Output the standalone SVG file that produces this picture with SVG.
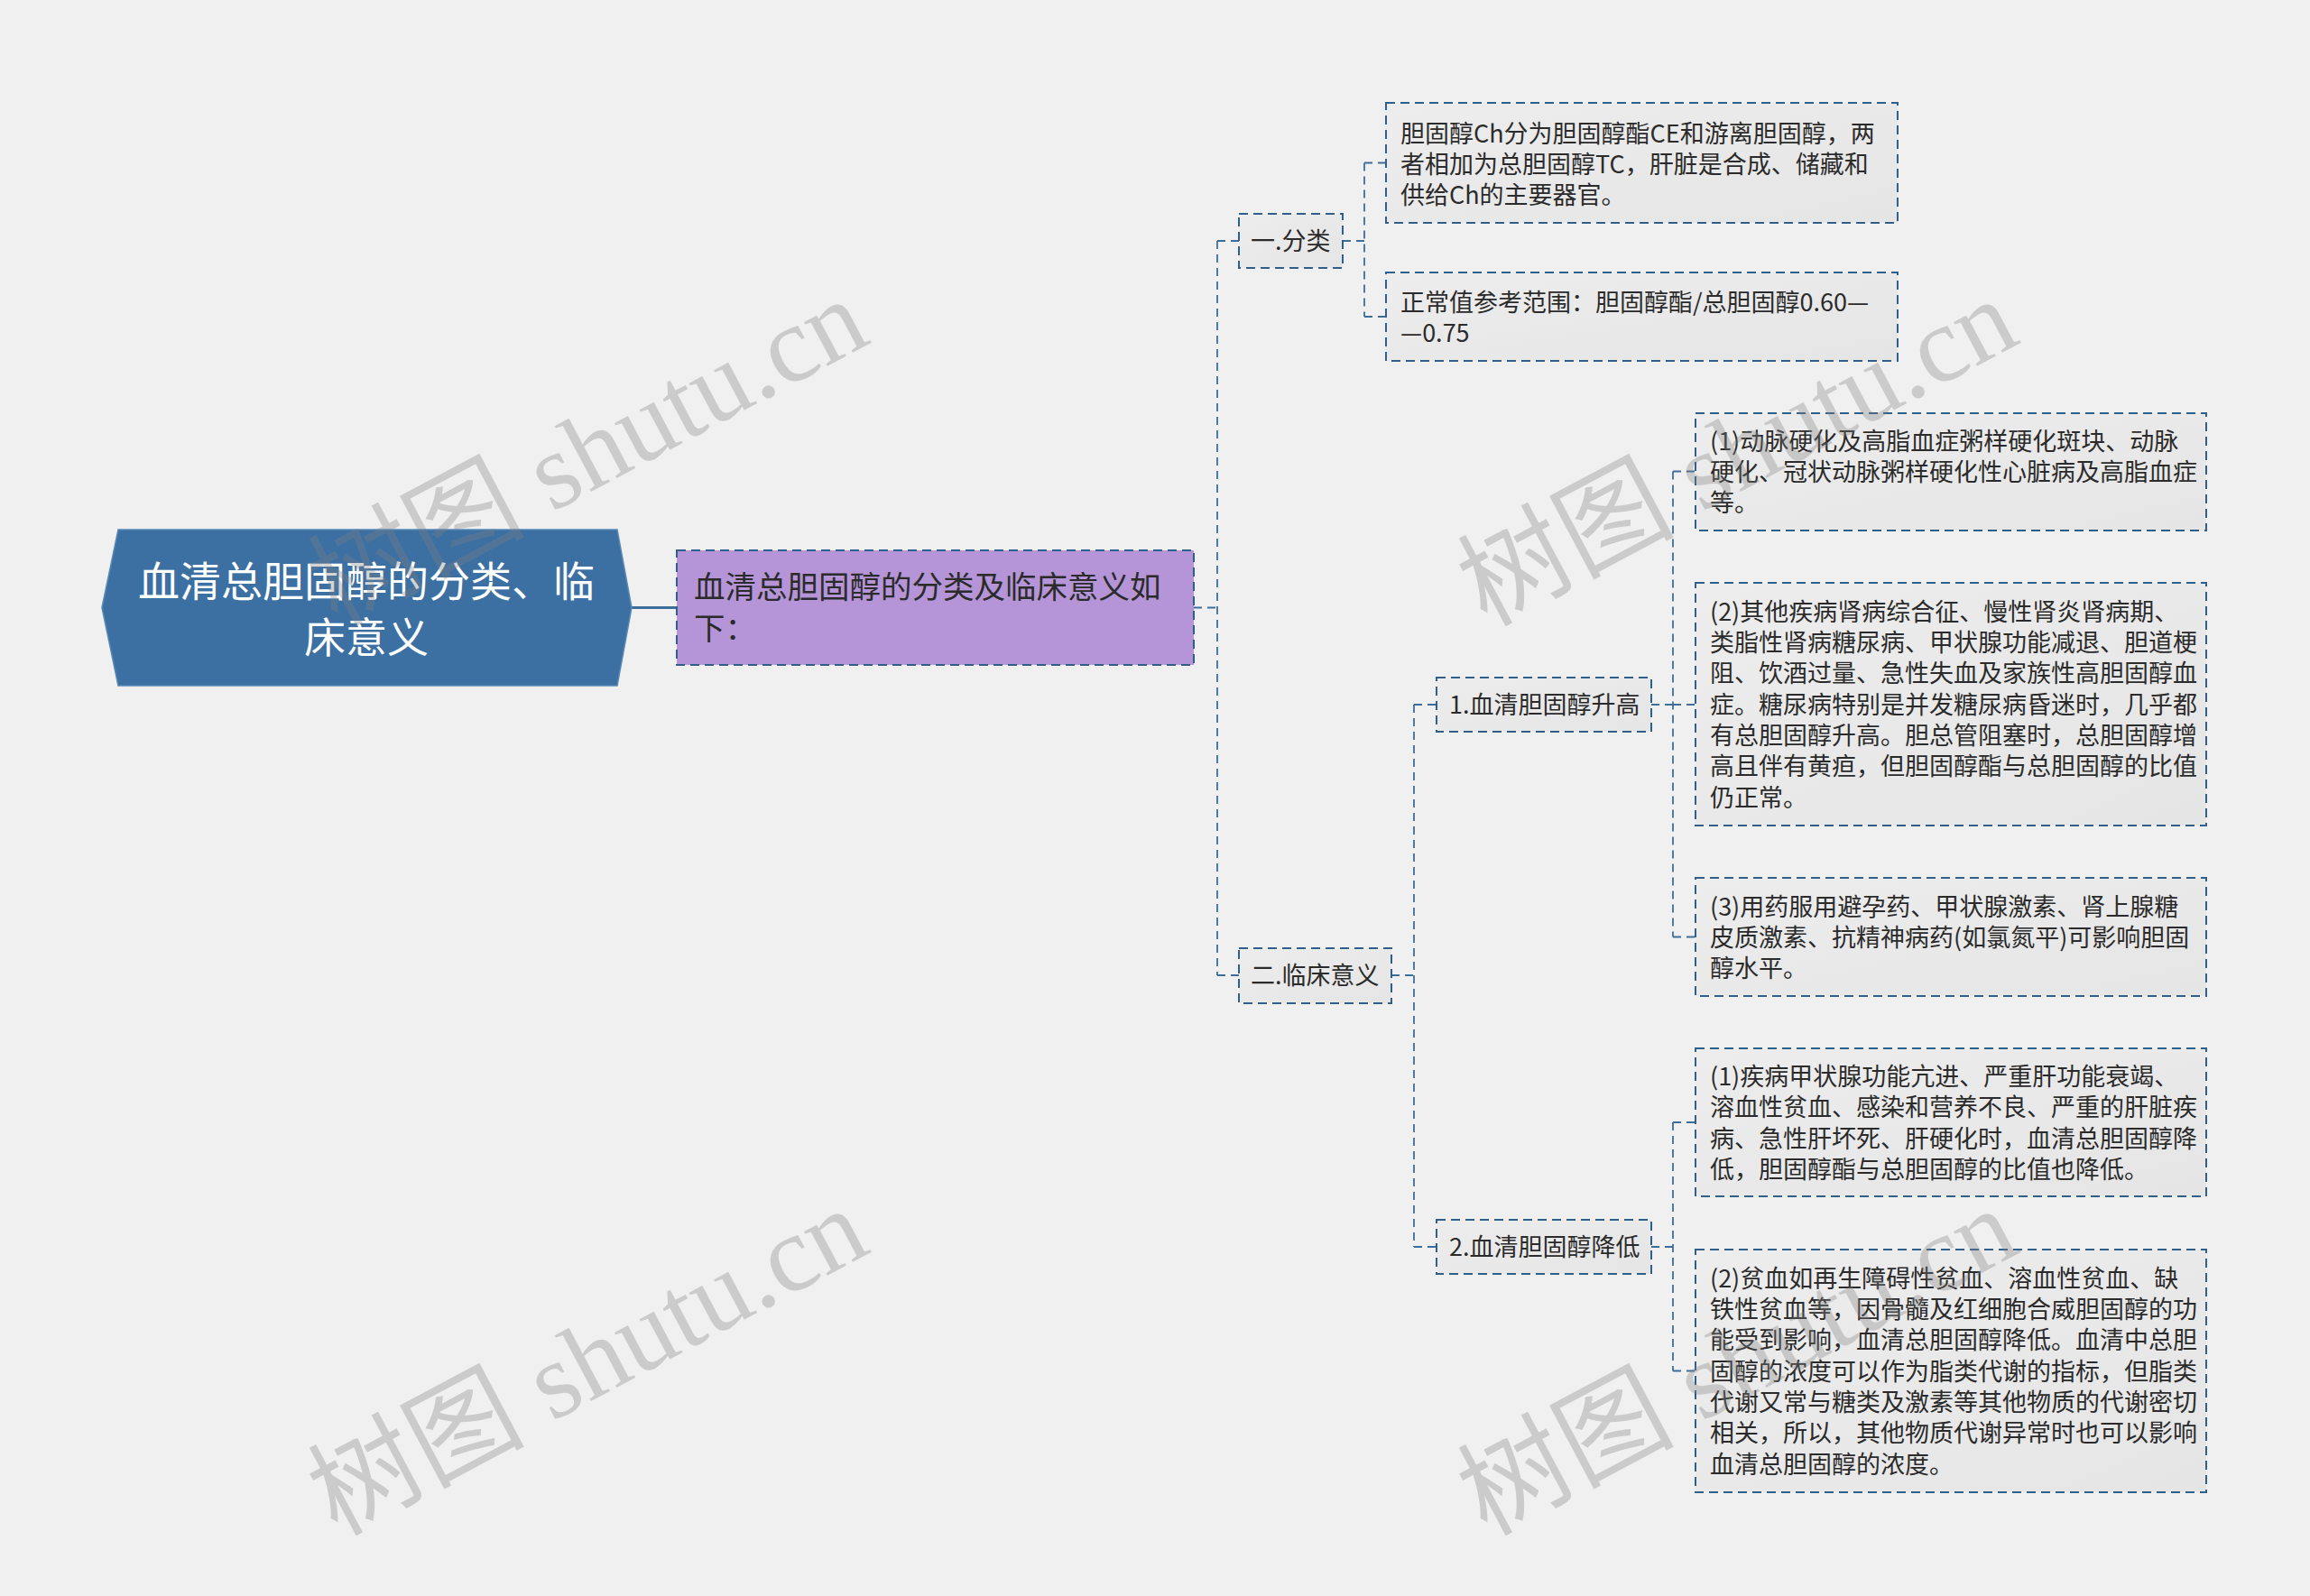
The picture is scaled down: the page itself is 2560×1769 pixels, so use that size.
<svg xmlns="http://www.w3.org/2000/svg" width="2560" height="1769" viewBox="0 0 2560 1769">
<style>
.t{font-family:"Noto Sans CJK SC","Liberation Sans",sans-serif;fill:#2b2b2b}
.leaf{font-size:27px}
.box{fill:url(#g);stroke:#2f5f8a;stroke-width:2;stroke-dasharray:10 6}
.con{fill:none;stroke:#3d6d9b;stroke-width:1.8;stroke-dasharray:9 6}
.wm{font-family:"Liberation Serif","Noto Sans CJK SC",serif;font-size:120px;fill:#808080;fill-opacity:0.33}
</style>
<defs>
<linearGradient id="g" x1="0" y1="0" x2="1" y2="1">
<stop offset="0" stop-color="#ededed"/>
<stop offset="1" stop-color="#e5e5e5"/>
</linearGradient>
</defs>
<rect x="0" y="0" width="2560" height="1769" fill="#f0f0f0"/>

<g id="connectors">
<path d="M700 673.5 H750" fill="none" stroke="#3d6d9b" stroke-width="3"/>
<path class="con" d="M1323 673.5 H1349 M1349 267 V1081 M1349 267 H1373 M1349 1081 H1373"/>
<path class="con" d="M1488 267 H1512 M1512 180.5 V351 M1512 180.5 H1536 M1512 351 H1536"/>
<path class="con" d="M1542 1081 H1567 M1567 781 V1382 M1567 781 H1592 M1567 1382 H1592"/>
<path class="con" d="M1830 781 H1854 M1854 522.5 V1038.5 M1854 522.5 H1879 M1854 781 H1879 M1854 1038.5 H1879"/>
<path class="con" d="M1830 1382 H1854 M1854 1244 V1519.5 M1854 1244 H1879 M1854 1519.5 H1879"/>
</g>

<g id="root">
<polygon points="113,673.5 131,587 684,587 700,673.5 684,760 131,760" fill="#3c70a3" stroke="#5a88b5" stroke-width="1.5"/>
<text class="t" x="406" y="661" font-size="46" text-anchor="middle" style="fill:#ffffff">血清总胆固醇的分类、临</text>
<text class="t" x="406" y="723" font-size="46" text-anchor="middle" style="fill:#ffffff">床意义</text>
</g>

<g id="n-main">
<rect x="750" y="610" width="573" height="127" fill="#b595d8" stroke="#2f5f8a" stroke-width="2" stroke-dasharray="10 6"/>
<text class="t" x="769" y="663" font-size="34.5">血清总胆固醇的分类及临床意义如</text>
<text class="t" x="769" y="709" font-size="34.5">下：</text>
</g>

<g id="n-fenlei">
<rect class="box" x="1373" y="237" width="115" height="60"/>
<text class="t leaf" x="1386" y="277">一.分类</text>
</g>

<g id="n-fenlei-1">
<rect class="box" x="1536" y="114" width="567" height="133"/>
<text class="t leaf" x="1552" y="158">胆固醇Ch分为胆固醇酯CE和游离胆固醇，两</text>
<text class="t leaf" x="1552" y="192">者相加为总胆固醇TC，肝脏是合成、储藏和</text>
<text class="t leaf" x="1552" y="226">供给Ch的主要器官。</text>
</g>

<g id="n-fenlei-2">
<rect class="box" x="1536" y="302" width="567" height="98"/>
<text class="t leaf" x="1552" y="345">正常值参考范围：胆固醇酯/总胆固醇0.60—</text>
<text class="t leaf" x="1552" y="379">—0.75</text>
</g>

<g id="n-linchuang">
<rect class="box" x="1373" y="1051" width="169" height="61"/>
<text class="t leaf" x="1386" y="1091">二.临床意义</text>
</g>

<g id="n-shenggao">
<rect class="box" x="1592" y="751" width="238" height="60"/>
<text class="t leaf" x="1606" y="791">1.血清胆固醇升高</text>
</g>

<g id="n-sg-1">
<rect class="box" x="1879" y="458" width="566" height="130"/>
<text class="t leaf" x="1895" y="499">(1)动脉硬化及高脂血症粥样硬化斑块、动脉</text>
<text class="t leaf" x="1895" y="533">硬化、冠状动脉粥样硬化性心脏病及高脂血症</text>
<text class="t leaf" x="1895" y="567">等。</text>
</g>

<g id="n-sg-2">
<rect class="box" x="1879" y="646" width="566" height="269"/>
<text class="t leaf" x="1895" y="688">(2)其他疾病肾病综合征、慢性肾炎肾病期、</text>
<text class="t leaf" x="1895" y="722">类脂性肾病糖尿病、甲状腺功能减退、胆道梗</text>
<text class="t leaf" x="1895" y="756">阻、饮酒过量、急性失血及家族性高胆固醇血</text>
<text class="t leaf" x="1895" y="791">症。糖尿病特别是并发糖尿病昏迷时，几乎都</text>
<text class="t leaf" x="1895" y="825">有总胆固醇升高。胆总管阻塞时，总胆固醇增</text>
<text class="t leaf" x="1895" y="859">高且伴有黄疸，但胆固醇酯与总胆固醇的比值</text>
<text class="t leaf" x="1895" y="894">仍正常。</text>
</g>

<g id="n-sg-3">
<rect class="box" x="1879" y="973" width="566" height="131"/>
<text class="t leaf" x="1895" y="1015">(3)用药服用避孕药、甲状腺激素、肾上腺糖</text>
<text class="t leaf" x="1895" y="1049">皮质激素、抗精神病药(如氯氮平)可影响胆固</text>
<text class="t leaf" x="1895" y="1083">醇水平。</text>
</g>

<g id="n-jiangdi">
<rect class="box" x="1592" y="1352" width="238" height="60"/>
<text class="t leaf" x="1606" y="1392">2.血清胆固醇降低</text>
</g>

<g id="n-jd-1">
<rect class="box" x="1879" y="1162" width="566" height="164"/>
<text class="t leaf" x="1895" y="1203">(1)疾病甲状腺功能亢进、严重肝功能衰竭、</text>
<text class="t leaf" x="1895" y="1237">溶血性贫血、感染和营养不良、严重的肝脏疾</text>
<text class="t leaf" x="1895" y="1272">病、急性肝坏死、肝硬化时，血清总胆固醇降</text>
<text class="t leaf" x="1895" y="1306">低，胆固醇酯与总胆固醇的比值也降低。</text>
</g>

<g id="n-jd-2">
<rect class="box" x="1879" y="1385" width="566" height="269"/>
<text class="t leaf" x="1895" y="1427">(2)贫血如再生障碍性贫血、溶血性贫血、缺</text>
<text class="t leaf" x="1895" y="1461">铁性贫血等，因骨髓及红细胞合威胆固醇的功</text>
<text class="t leaf" x="1895" y="1495">能受到影响，血清总胆固醇降低。血清中总胆</text>
<text class="t leaf" x="1895" y="1530">固醇的浓度可以作为脂类代谢的指标，但脂类</text>
<text class="t leaf" x="1895" y="1564">代谢又常与糖类及激素等其他物质的代谢密切</text>
<text class="t leaf" x="1895" y="1598">相关，所以，其他物质代谢异常时也可以影响</text>
<text class="t leaf" x="1895" y="1633">血清总胆固醇的浓度。</text>
</g>

<g id="watermarks">
<text class="wm" x="373" y="695" transform="rotate(-28 373 695)">树图 shutu.cn</text>
<text class="wm" x="1647" y="695" transform="rotate(-28 1647 695)">树图 shutu.cn</text>
<text class="wm" x="373" y="1703" transform="rotate(-28 373 1703)">树图 shutu.cn</text>
<text class="wm" x="1647" y="1703" transform="rotate(-28 1647 1703)">树图 shutu.cn</text>
</g>
</svg>
